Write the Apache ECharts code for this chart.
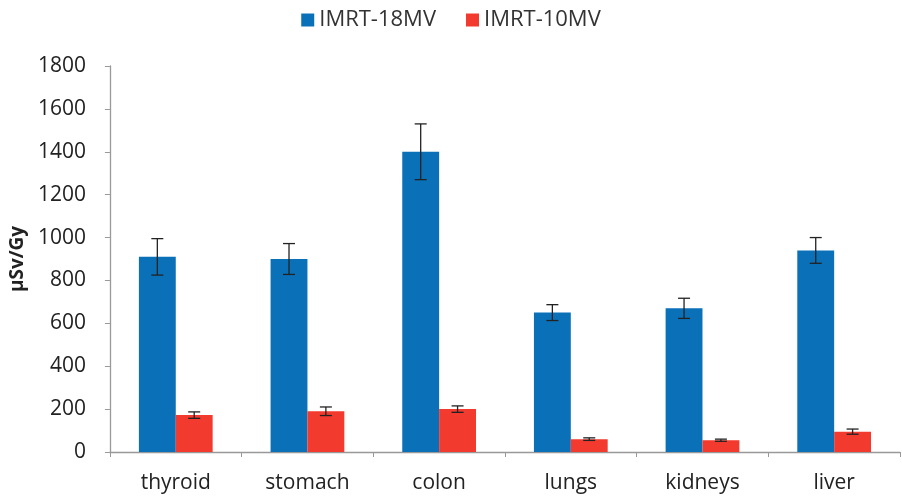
<!DOCTYPE html>
<html><head><meta charset="utf-8">
<script src="https://cdn.jsdelivr.net/npm/echarts@6/dist/echarts.min.js"></script>
<style>html,body{margin:0;padding:0;background:#fff}#c{width:902px;height:500px}</style>
</head><body><div id="c"></div>
<script>
const categories = ['thyroid','stomach','colon','lungs','kidneys','liver'];
const seriesNames = ['IMRT-18MV','IMRT-10MV'];
const values18 = [910, 900, 1400, 650, 670, 940];
const err18 = [85, 72, 130, 37, 47, 60];
const values10 = [172, 190, 200, 60, 55, 95];
const err10 = [15, 20, 15, 6, 5, 12];
const yTicks = [0,200,400,600,800,1000,1200,1400,1600,1800];

const colors = ['#0a71b9', '#f23a2e'];
const chart = echarts.init(document.getElementById('c'));
const font = "'Open Sans', 'Liberation Sans', sans-serif";

function errSeries(vals, errs, idx) {
  return {
    type: 'custom',
    name: seriesNames[idx] + ' err',
    data: vals.map((v, i) => [i, v - errs[i], v + errs[i]]),
    z: 10,
    renderItem: function (params, api) {
      const ci = api.value(0);
      const lo = api.coord([ci, api.value(1)]);
      const hi = api.coord([ci, api.value(2)]);
      const bw = api.size([1, 0])[0];
      const barW = bw * 0.28;
      const x = lo[0] + (idx === 0 ? -barW / 2 : barW / 2);
      const cap = 6;
      const st = { stroke: '#222', lineWidth: 1.3 };
      return { type: 'group', children: [
        { type: 'line', shape: { x1: x, y1: lo[1], x2: x, y2: hi[1] }, style: st },
        { type: 'line', shape: { x1: x - cap, y1: lo[1], x2: x + cap, y2: lo[1] }, style: st },
        { type: 'line', shape: { x1: x - cap, y1: hi[1], x2: x + cap, y2: hi[1] }, style: st }
      ]};
    }
  };
}

chart.setOption({
  animation: false,
  color: colors,
  legend: {
    data: seriesNames,
    top: 4, left: 'center',
    itemWidth: 13, itemHeight: 13, itemGap: 30, icon: 'rect',
    textStyle: { fontFamily: font, fontSize: 22, color: '#333' }
  },
  grid: { left: 108, right: 2, top: 66, bottom: 48 },
  xAxis: {
    type: 'category', data: categories,
    axisLine: { lineStyle: { color: '#999', width: 1.3 } },
    axisTick: { show: true, alignWithLabel: false, length: 5, lineStyle: { color: '#999' } },
    axisLabel: { fontFamily: font, fontSize: 21, color: '#222', margin: 21 }
  },
  yAxis: {
    type: 'value', min: 0, max: 1800, interval: 200,
    name: 'µSv/Gy', nameLocation: 'middle', nameGap: 80, nameRotate: 90,
    nameTextStyle: { fontFamily: font, fontSize: 19, fontWeight: 'bold', color: '#222' },
    axisLine: { show: true, lineStyle: { color: '#999', width: 1.3 } },
    axisTick: { show: true, length: 5, lineStyle: { color: '#999' } },
    splitLine: { show: false },
    axisLabel: { fontFamily: font, fontSize: 21, color: '#222', margin: 24,
      formatter: v => yTicks.includes(v) ? String(v) : '' }
  },
  series: [
    { type: 'bar', name: seriesNames[0], data: values18, barWidth: '28%', barGap: '0%',
      itemStyle: { color: colors[0] } },
    { type: 'bar', name: seriesNames[1], data: values10, barWidth: '28%', barGap: '0%',
      itemStyle: { color: colors[1] } },
    errSeries(values18, err18, 0),
    errSeries(values10, err10, 1)
  ]
});
</script></body></html>
